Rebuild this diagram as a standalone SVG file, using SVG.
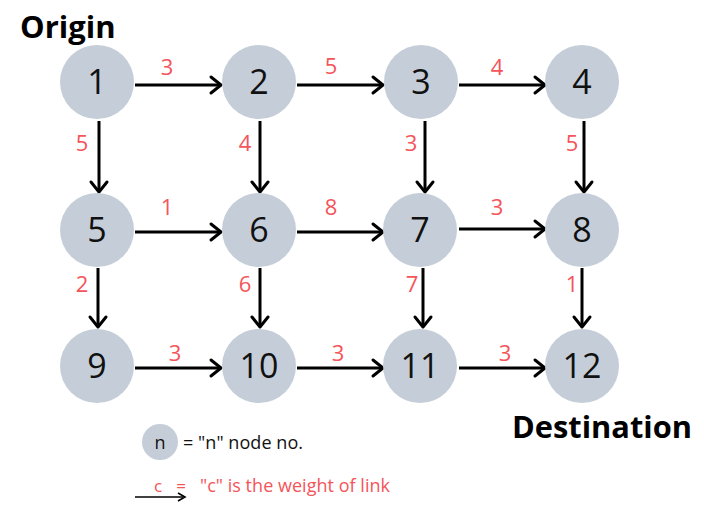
<svg xmlns="http://www.w3.org/2000/svg" width="704" height="514" viewBox="0 0 704 514">
<defs>
<marker id="ah" viewBox="0 0 10 10" refX="9" refY="5" markerWidth="10" markerHeight="10" markerUnits="userSpaceOnUse" orient="auto" overflow="visible">
<polyline points="-1,-3 9,5 -1,13" fill="none" stroke="#000" stroke-width="3" stroke-linecap="round" stroke-linejoin="round"/>
</marker>
<style>
.n{fill:#c5ced8}
.t{font-family:"Open Sans","Noto Sans",sans-serif;font-size:34px;fill:#111;text-anchor:middle}
.w{font-family:"Open Sans","Noto Sans",sans-serif;font-size:22px;fill:#f4555a;text-anchor:middle}
.c line{stroke:#000;stroke-width:3;marker-end:url(#ah)}
.h{font-family:"Open Sans","Noto Sans",sans-serif;font-size:31px;font-weight:bold;fill:#000}
</style>
</defs>
<rect width="704" height="514" fill="#fff"/>
<text class="h" x="20" y="38">Origin</text>
<text class="h" x="512" y="438" textLength="180" lengthAdjust="spacingAndGlyphs">Destination</text>
<g class="c" id="connectors">
<line x1="135" y1="85" x2="221" y2="85"/>
<line x1="297" y1="85" x2="383" y2="85"/>
<line x1="459" y1="85" x2="545" y2="85"/>
<line x1="135" y1="232" x2="221" y2="232"/>
<line x1="297" y1="232" x2="383" y2="232"/>
<line x1="459" y1="229" x2="545" y2="229"/>
<line x1="135" y1="368" x2="221" y2="368"/>
<line x1="297" y1="368" x2="383" y2="368"/>
<line x1="459" y1="368" x2="545" y2="368"/>
<line x1="99" y1="121" x2="99" y2="192"/>
<line x1="260" y1="121" x2="260" y2="192"/>
<line x1="425" y1="121" x2="425" y2="192"/>
<line x1="584" y1="121" x2="584" y2="192"/>
<line x1="98" y1="268" x2="98" y2="327"/>
<line x1="260" y1="268" x2="260" y2="327"/>
<line x1="423" y1="268" x2="423" y2="327"/>
<line x1="582" y1="268" x2="582" y2="327"/>
</g>
<g id="weights">
<text class="w" x="167" y="75">3</text>
<text class="w" x="331" y="74">5</text>
<text class="w" x="497" y="75">4</text>
<text class="w" x="82" y="151">5</text>
<text class="w" x="245" y="151">4</text>
<text class="w" x="411" y="151">3</text>
<text class="w" x="572" y="151">5</text>
<text class="w" x="167" y="215">1</text>
<text class="w" x="331" y="215">8</text>
<text class="w" x="497" y="215">3</text>
<text class="w" x="82" y="292">2</text>
<text class="w" x="245" y="292">6</text>
<text class="w" x="412" y="292">7</text>
<text class="w" x="572" y="292">1</text>
<text class="w" x="175" y="361">3</text>
<text class="w" x="338" y="361">3</text>
<text class="w" x="505" y="361">3</text>
</g>
<g id="node1"><circle class="n" cx="97" cy="82" r="37"/><text class="t" x="97" y="94">1</text></g>
<g id="node2"><circle class="n" cx="259" cy="82" r="37"/><text class="t" x="259" y="94">2</text></g>
<g id="node3"><circle class="n" cx="421" cy="82" r="37"/><text class="t" x="421" y="94">3</text></g>
<g id="node4"><circle class="n" cx="582" cy="82" r="37"/><text class="t" x="582" y="94">4</text></g>
<g id="node5"><circle class="n" cx="97" cy="230" r="37"/><text class="t" x="97" y="242">5</text></g>
<g id="node6"><circle class="n" cx="259" cy="230" r="37"/><text class="t" x="259" y="242">6</text></g>
<g id="node7"><circle class="n" cx="420" cy="230" r="37"/><text class="t" x="420" y="242">7</text></g>
<g id="node8"><circle class="n" cx="582" cy="230" r="37"/><text class="t" x="582" y="242">8</text></g>
<g id="node9"><circle class="n" cx="97" cy="366" r="37"/><text class="t" x="97" y="378">9</text></g>
<g id="node10"><circle class="n" cx="259" cy="366" r="37"/><text class="t" x="259" y="378">10</text></g>
<g id="node11"><circle class="n" cx="420" cy="366" r="37"/><text class="t" x="420" y="378">11</text></g>
<g id="node12"><circle class="n" cx="582" cy="366" r="37"/><text class="t" x="582" y="378">12</text></g>
<g id="legend">
<circle class="n" cx="160" cy="442" r="18"/>
<text x="160" y="449" font-family="'Open Sans','Noto Sans',sans-serif" font-size="18" fill="#111" text-anchor="middle">n</text>
<text x="183" y="449" font-family="'Open Sans','Noto Sans',sans-serif" font-size="18" fill="#111" textLength="120">= "n" node no.</text>
<text x="158" y="492" font-family="'Open Sans','Noto Sans',sans-serif" font-size="17" fill="#f4555a" text-anchor="middle">c</text>
<text x="181" y="492" font-family="'Open Sans','Noto Sans',sans-serif" font-size="17" fill="#f4555a" text-anchor="middle">=</text>
<text x="200" y="492" font-family="'Open Sans','Noto Sans',sans-serif" font-size="18" fill="#f4555a" textLength="190">"c" is the weight of link</text>
<line x1="135" y1="497" x2="183" y2="497" stroke="#000" stroke-width="1.6"/>
<polyline points="178,493 185,497 178,501" fill="none" stroke="#000" stroke-width="1.6"/>
</g>
</svg>
